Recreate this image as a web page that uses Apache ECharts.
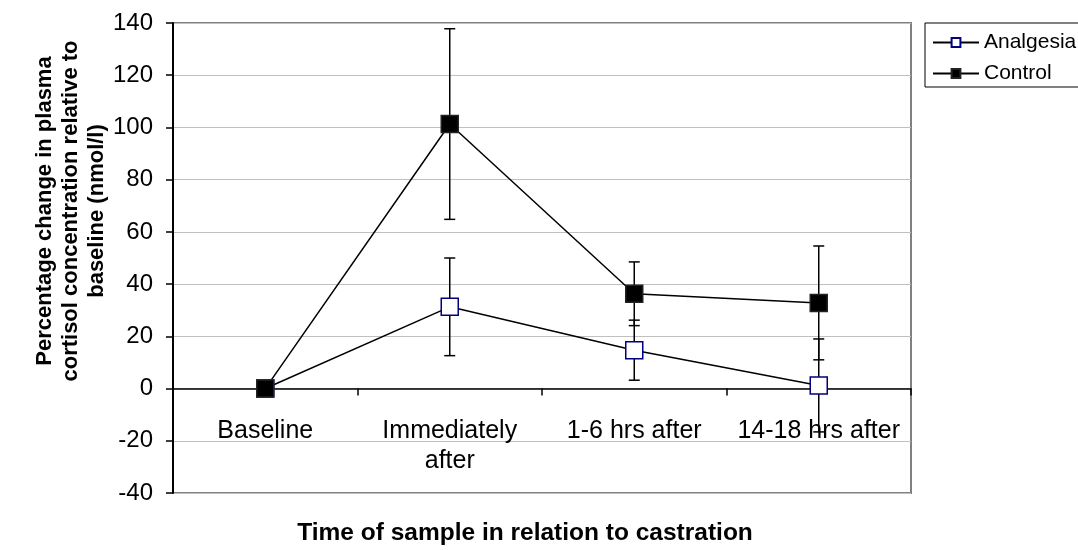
<!DOCTYPE html>
<html>
<head>
<meta charset="utf-8">
<script src="https://cdn.jsdelivr.net/npm/echarts@6/dist/echarts.min.js"></script>
<style>
  html, body { margin: 0; padding: 0; background: #fff; }
  #chart { width: 1078px; height: 550px; }
</style>
</head>
<body>
<div id="chart"></div>
<script>
// sample times
const categories = ['Baseline', 'Immediately\nafter', '1-6 hrs after', '14-18 hrs after'];
// % change in plasma cortisol, with error bar half-widths
const analgesia = [0, 31.3, 14.7, 1.2];
const analgesiaErr = [0, 18.7, 11.5, 17.8];
const control = [0, 101.3, 36.3, 32.8];
const controlErr = [0, 36.5, 12.2, 21.8];
// y axis ticks
const yMin = -40, yMax = 140, yStep = 20;

const font = 'Arial, "Liberation Sans", sans-serif';

const gridTop = 23, gridBottom = 57, chartH = 550;
// the category axis sits on the zero line
const plotH = chartH - gridTop - gridBottom;
const zeroOffset = -plotH * (0 - yMin) / (yMax - yMin);

function errRows(vals, errs) {
  return vals.map((v, i) => [i, v, errs[i]]);
}

function drawErr(params, api) {
  const i = api.value(0), v = api.value(1), e = api.value(2);
  const top = api.coord([i, v + e]);
  const bot = api.coord([i, v - e]);
  const w = 5.5;
  const st = { stroke: '#000', lineWidth: 1.5 };
  return {
    type: 'group',
    children: [
      { type: 'line', shape: { x1: top[0], y1: top[1], x2: bot[0], y2: bot[1] }, style: st },
      { type: 'line', shape: { x1: top[0] - w, y1: top[1], x2: top[0] + w, y2: top[1] }, style: st },
      { type: 'line', shape: { x1: bot[0] - w, y1: bot[1], x2: bot[0] + w, y2: bot[1] }, style: st }
    ]
  };
}

const chart = echarts.init(document.getElementById('chart'), null, { renderer: 'canvas' });

const option = {
  backgroundColor: '#fff',
  animation: false,
  textStyle: { fontFamily: font },
  grid: {
    left: 173, right: 167, top: gridTop, bottom: gridBottom,
    show: true, borderColor: '#808080', borderWidth: 2
  },
  legend: {
    data: ['Analgesia', 'Control'],
    orient: 'vertical',
    left: 925, top: 23,
    borderColor: '#000', borderWidth: 1,
    padding: [9, 10, 3, 7],
    itemWidth: 46, itemHeight: 11, itemGap: 10,
    textStyle: { fontSize: 21, color: '#000', fontFamily: font }
  },
  xAxis: {
    type: 'category',
    data: categories,
    boundaryGap: true,
    offset: zeroOffset,
    axisLine: { onZero: false, lineStyle: { color: '#000', width: 1.5 } },
    axisTick: { show: true, interval: 0, length: 7, lineStyle: { color: '#000', width: 1.5 } },
    axisLabel: { interval: 0, fontSize: 25, color: '#000', margin: 28, lineHeight: 30, fontFamily: font },
    splitLine: { show: false }
  },
  yAxis: {
    type: 'value',
    min: yMin, max: yMax, interval: yStep,
    axisLine: { show: true, lineStyle: { color: '#000', width: 2 } },
    axisTick: { show: true, length: 7, lineStyle: { color: '#000', width: 1.5 } },
    axisLabel: { fontSize: 24, color: '#000', margin: 20, fontFamily: font },
    splitLine: { lineStyle: { color: '#c0c0c0', width: 1 } }
  },
  graphic: [
    {
      type: 'text', x: 71, y: 211, rotation: Math.PI / 2,
      style: {
        text: 'Percentage change in plasma\ncortisol concentration relative to\nbaseline (nmol/l)',
        font: 'bold 22px ' + font, fill: '#000',
        align: 'center', verticalAlign: 'middle', lineHeight: 26
      }
    },
    {
      type: 'text', x: 525, y: 533,
      style: {
        text: 'Time of sample in relation to castration',
        font: 'bold 24.5px ' + font, fill: '#000',
        align: 'center', verticalAlign: 'middle'
      }
    }
  ],
  series: [
    {
      name: 'AnalgesiaErr', type: 'custom', renderItem: drawErr,
      data: errRows(analgesia, analgesiaErr), encode: { x: 0, y: 1 }, z: 2, silent: true
    },
    {
      name: 'ControlErr', type: 'custom', renderItem: drawErr,
      data: errRows(control, controlErr), encode: { x: 0, y: 1 }, z: 2, silent: true
    },
    {
      name: 'Analgesia', type: 'line', data: analgesia,
      symbol: 'rect', symbolSize: 17, z: 3,
      lineStyle: { color: '#000', width: 1.5 },
      itemStyle: { color: '#fff', borderColor: '#000080', borderWidth: 1.5 }
    },
    {
      name: 'Control', type: 'line', data: control,
      symbol: 'rect', symbolSize: 17, z: 4,
      lineStyle: { color: '#000', width: 1.5 },
      itemStyle: { color: '#000', borderColor: '#222', borderWidth: 1.5 }
    }
  ]
};

chart.setOption(option);
</script>
</body>
</html>
